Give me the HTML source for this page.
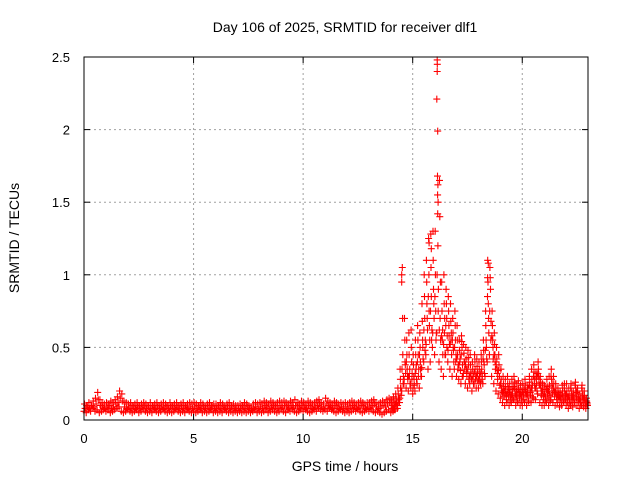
<!DOCTYPE html>
<html><head><meta charset="utf-8"><style>
body{margin:0;background:#fff}
svg{display:block;font-family:"Liberation Sans",sans-serif}
</style></head><body>
<svg id="chart" width="640" height="480" xmlns="http://www.w3.org/2000/svg">
<text x="345" y="32" font-size="14" text-anchor="middle">Day 106 of 2025, SRMTID for receiver dlf1</text>
<text transform="translate(19,238) rotate(-90)" font-size="14" text-anchor="middle">SRMTID / TECUs</text>
<text x="345" y="471" font-size="14" text-anchor="middle">GPS time / hours</text>
<g id="grid"></g><g id="marks"></g><g id="axes"></g>
</svg>
<script>
const xTicks=[0,5,10,15,20];
const yTicks=[0,0.5,1,1.5,2,2.5];
const yTickLabels=["0","0.5","1","1.5","2","2.5"];
const stepHours=0.1;
const activeStart=14;
const srmtidLo=[
.06,.05,.07,.06,.08,.06,.07,.05,.06,.07,
.06,.07,.05,.06,.07,.08,.09,.06,.05,.06,
.07,.06,.05,.06,.07,.05,.06,.07,.06,.05,
.06,.05,.07,.06,.05,.06,.07,.06,.05,.06,
.05,.06,.07,.06,.05,.06,.05,.07,.06,.05,
.06,.05,.06,.07,.05,.06,.05,.06,.07,.05,
.06,.05,.06,.05,.07,.06,.05,.06,.05,.06,
.05,.06,.05,.06,.05,.06,.05,.06,.07,.05,
.06,.05,.06,.07,.05,.06,.07,.06,.05,.06,
.07,.06,.05,.07,.06,.07,.06,.05,.06,.07,
.06,.07,.06,.05,.06,.07,.06,.08,.07,.06,
.07,.06,.08,.07,.06,.05,.06,.07,.06,.05,
.06,.05,.06,.07,.06,.07,.06,.05,.06,.07,
.06,.07,.06,.05,.06,.05,.04,.05,.06,.07,
.05,.06,.07,.08,.12,.20,.25,.22,.20,.25,
.18,.20,.25,.22,.30,.40,.45,.35,.40,.50,
.45,.60,.40,.35,.30,.45,.40,.35,.30,.35,
.30,.28,.25,.30,.25,.22,.25,.20,.25,.22,
.22,.25,.25,.30,.40,.45,.30,.25,.20,.18,
.15,.12,.10,.12,.10,.12,.14,.10,.12,.10,
.10,.12,.10,.13,.12,.15,.14,.18,.12,.10,
.10,.12,.10,.14,.12,.10,.12,.09,.10,.12,
.10,.08,.10,.09,.12,.10,.08,.10,.09,.08];
const srmtidMid=[
.08,.09,.08,.10,.09,.11,.14,.10,.09,.08,
.09,.10,.08,.09,.11,.12,.15,.13,.09,.08,
.09,.08,.09,.08,.09,.08,.09,.10,.08,.09,
.08,.09,.08,.09,.08,.09,.08,.09,.08,.09,
.09,.08,.09,.08,.09,.08,.09,.08,.09,.08,
.09,.08,.09,.08,.09,.08,.09,.08,.09,.08,
.08,.09,.08,.09,.08,.09,.08,.09,.08,.08,
.08,.08,.09,.08,.09,.08,.07,.08,.09,.08,
.09,.08,.10,.09,.08,.09,.10,.09,.08,.10,
.09,.10,.09,.08,.10,.09,.10,.09,.08,.10,
.09,.08,.10,.09,.08,.09,.10,.11,.09,.08,
.11,.10,.09,.08,.10,.09,.08,.09,.08,.09,
.08,.09,.10,.09,.08,.09,.10,.09,.08,.09,
.09,.10,.11,.09,.08,.09,.10,.09,.11,.12,
.10,.11,.13,.15,.22,.45,.40,.35,.30,.40,
.30,.35,.45,.40,.55,.70,.80,.75,.85,.90,
.75,1.20,.70,.55,.60,.70,.65,.55,.50,.55,
.45,.40,.50,.40,.35,.38,.32,.30,.35,.33,
.30,.35,.40,.55,.80,.90,.55,.45,.35,.30,
.22,.20,.18,.20,.17,.18,.22,.16,.18,.17,
.18,.20,.17,.22,.20,.28,.25,.30,.22,.18,
.16,.18,.17,.22,.20,.18,.16,.15,.17,.16,
.15,.14,.16,.15,.18,.14,.12,.16,.14,.12];
const srmtidHi=[
.11,.10,.12,.10,.13,.15,.19,.14,.12,.11,
.12,.11,.13,.12,.14,.16,.20,.18,.13,.12,
.11,.12,.10,.11,.12,.10,.11,.12,.11,.10,
.12,.10,.11,.12,.10,.11,.12,.11,.10,.12,
.10,.11,.12,.10,.11,.12,.10,.11,.12,.11,
.12,.11,.10,.12,.11,.10,.11,.12,.10,.11,
.11,.10,.12,.11,.10,.11,.12,.10,.11,.10,
.10,.11,.10,.12,.11,.10,.09,.11,.12,.11,
.12,.11,.13,.12,.11,.13,.12,.11,.12,.13,
.12,.13,.12,.11,.13,.12,.14,.12,.11,.13,
.12,.11,.13,.12,.11,.12,.13,.14,.12,.11,
.15,.13,.12,.11,.13,.12,.11,.12,.11,.12,
.11,.12,.13,.12,.11,.12,.13,.12,.11,.12,
.12,.13,.14,.12,.11,.12,.13,.12,.14,.15,
.14,.16,.18,.22,.35,1.05,.70,.55,.60,.62,
.45,.55,.65,.60,.80,1.00,1.10,1.25,1.28,1.30,
1.30,2.45,1.65,.95,1.00,.90,.85,.80,.70,.75,
.65,.55,.58,.52,.50,.48,.45,.40,.45,.42,
.40,.45,.55,.75,1.10,1.05,.75,.60,.50,.45,
.35,.30,.28,.30,.25,.28,.30,.25,.27,.24,
.25,.28,.24,.30,.35,.38,.33,.40,.30,.25,
.24,.28,.30,.35,.30,.25,.22,.20,.24,.25,
.25,.22,.25,.20,.26,.22,.18,.24,.20,.15];
const srmtidActiveA=[
.08,.09,.10,.12,.17,.30,.32,.28,.25,.32,
.24,.28,.35,.30,.42,.55,.62,.55,.62,.70,
.60,.90,.55,.45,.45,.58,.52,.45,.40,.45,
.38,.34,.38,.35,.30,.30,.28,.25,.30,.27,
.26,.30,.32,.42,.60,.68,.42,.35,.28,.24,
.18,.16,.14,.16,.13,.15,.18,.13,.15,.13,
.14,.16,.13,.17,.16,.22,.20,.24,.17,.14,
.13,.15,.13,.18,.16,.14,.14,.12,.13,.14,
.12,.11,.13,.12,.15,.12,.10,.13,.11,.10];
const srmtidActiveB=[
.12,.13,.15,.18,.28,.70,.55,.45,.45,.50,
.38,.45,.55,.50,.68,.85,.95,1.00,1.05,1.10,
1.00,1.55,1.40,.75,.80,.80,.75,.68,.60,.65,
.55,.48,.54,.46,.42,.43,.38,.35,.40,.37,
.35,.40,.48,.65,.95,.98,.65,.52,.42,.38,
.28,.25,.23,.25,.21,.23,.26,.20,.22,.20,
.22,.24,.20,.26,.28,.33,.29,.35,.26,.22,
.20,.23,.24,.28,.25,.22,.19,.18,.20,.20,
.20,.18,.20,.18,.22,.18,.15,.20,.17,.13];
const srmtidActiveC=[
.10,.07,.12,.14,.22,.25,.38,.30,.35,.28,
.28,.38,.30,.35,.50,.48,.70,.65,.55,.80,
.55,.75,.95,.62,.70,.50,.58,.60,.48,.40,
.35,.42,.30,.40,.33,.28,.33,.30,.28,.32,
.30,.28,.38,.50,.70,.55,.50,.40,.32,.30,
.20,.22,.17,.22,.16,.20,.20,.18,.19,.16,
.16,.19,.22,.19,.24,.25,.30,.28,.20,.16,
.16,.20,.18,.25,.19,.16,.18,.15,.16,.18,
.16,.14,.17,.15,.19,.16,.13,.17,.14,.11];
const srmtidActiveD=[
.07,.08,.11,.10,.15,.35,.28,.40,.30,.22,
.22,.32,.40,.45,.36,.62,.52,.85,.75,.60,
.85,1.00,.62,.58,.52,.65,.48,.52,.55,.50,
.42,.38,.45,.32,.38,.35,.30,.28,.33,.30,
.28,.33,.42,.48,.85,.75,.58,.45,.38,.34,
.25,.19,.20,.18,.19,.17,.23,.17,.21,.18,
.19,.21,.18,.24,.22,.30,.22,.32,.24,.20,
.18,.21,.20,.30,.22,.19,.17,.16,.18,.22,
.18,.16,.22,.16,.24,.20,.14,.22,.15,.12];
const spikeTimes=[16.12,16.12,16.1,16.14,16.13,16.15,16.16,16.14,14.5,14.5,18.45,18.42,15.75,15.85];
const spikeValues=[2.48,2.40,2.21,1.99,1.68,1.62,1.50,1.42,1.00,0.95,1.08,0.98,1.22,1.18];

const X0=84,X1=588,Y0=420,Y1=57,XMAX=23,YMAX=2.5;
const xs=v=>X0+(X1-X0)*v/XMAX;
const ys=v=>Y0-(Y0-Y1)*v/YMAX;
const NS="http://www.w3.org/2000/svg";
function mk(tag,attrs,parent){const e=document.createElementNS(NS,tag);for(const k in attrs)e.setAttribute(k,attrs[k]);parent.appendChild(e);return e;}
const grid=document.getElementById('grid'),marks=document.getElementById('marks'),axes=document.getElementById('axes');
xTicks.forEach((t,i)=>{
  if(t>0){const g=mk('line',{x1:xs(t),x2:xs(t),y1:Y0,y2:Y1,stroke:'#a0a0a0','stroke-dasharray':'2,3'},grid);
  
  }
  const tl=mk('line',{x1:xs(t),x2:xs(t),y1:Y0,y2:Y0-6,stroke:'#000'},axes);
  
  
  const tt=mk('line',{x1:xs(t),x2:xs(t),y1:Y1,y2:Y1+6,stroke:'#000'},axes);
  
  
  const lab=mk('text',{x:xs(t),y:Y0+23,'font-size':13,'text-anchor':'middle'},axes);
  lab.textContent=String(t);
  
  
});
yTicks.forEach((t,i)=>{
  if(t>0&&t<YMAX){const g=mk('line',{x1:X0,x2:X1,y1:ys(t),y2:ys(t),stroke:'#a0a0a0','stroke-dasharray':'2,3'},grid);
  
  }
  const tl=mk('line',{x1:X0,x2:X0+6,y1:ys(t),y2:ys(t),stroke:'#000'},axes);
  
  
  const tr=mk('line',{x1:X1,x2:X1-6,y1:ys(t),y2:ys(t),stroke:'#000'},axes);
  
  
  const lab=mk('text',{x:X0-14,y:ys(t)+5,'font-size':13,'text-anchor':'end'},axes);
  lab.textContent=yTickLabels[i];
  
  
});
const frame=mk('rect',{x:X0,y:Y1,width:X1-X0,height:Y0-Y1,fill:'none',stroke:'#000'},axes);


let d='';
function plus(t,v){const x=xs(t),y=ys(v);d+=`M${(x-3.5).toFixed(1)},${y.toFixed(1)}h7M${x.toFixed(1)},${(y-3.5).toFixed(1)}v7`;}
srmtidLo.forEach((v,i)=>plus(i*stepHours,v));
srmtidMid.forEach((v,i)=>plus(i*stepHours+0.05,v));
srmtidHi.forEach((v,i)=>plus(i*stepHours+0.025,v));
srmtidActiveA.forEach((v,i)=>plus(activeStart+i*stepHours+0.075,v));
srmtidActiveB.forEach((v,i)=>plus(activeStart+i*stepHours+0.0375,v));
srmtidActiveC.forEach((v,i)=>plus(activeStart+i*stepHours+0.0625,v));
srmtidActiveD.forEach((v,i)=>plus(activeStart+i*stepHours+0.0125,v));
spikeTimes.forEach((t,i)=>plus(t,spikeValues[i]));
const p=mk('path',{d:d,stroke:'#ff0000','stroke-width':1.1,fill:'none'},marks);


</script>
</body></html>
